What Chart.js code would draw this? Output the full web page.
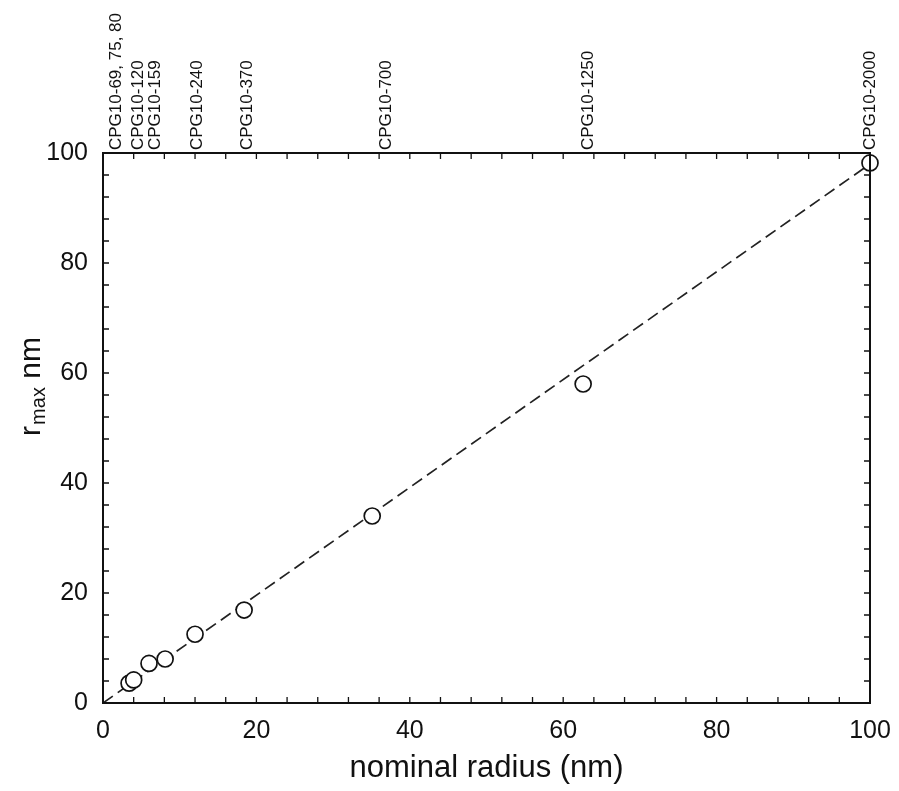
<!DOCTYPE html>
<html>
<head>
<meta charset="utf-8">
<script src="https://cdn.jsdelivr.net/npm/chart.js@4/dist/chart.umd.min.js"></script>
<style>
  html, body { margin: 0; padding: 0; background: #fff; }
  canvas { display: block; }
</style>
</head>
<body>
<canvas id="rmaxChart" width="899" height="791"></canvas>
<script>
// data
const nominalRadius = [3.4, 4.0, 6.0, 8.1, 12.0, 18.4, 35.1, 62.6, 100];
const rMax = [3.6, 4.2, 7.2, 8.0, 12.5, 16.9, 34.0, 58.0, 98.2];

// dashed fit line end points
const fitX = [0, 100];
const fitY = [0, 98];

// top axis labels and where they sit on the x scale
const poreLabels = ['CPG10-69, 75, 80', 'CPG10-120', 'CPG10-159', 'CPG10-240',
  'CPG10-370', 'CPG10-700', 'CPG10-1250', 'CPG10-2000'];
const poreLabelPos = [1.6, 4.5, 6.8, 12.2, 18.7, 36.8, 63.2, 100];

const axisTicks = [0, 20, 40, 60, 80, 100];

const font = 'Liberation Sans, Arial, sans-serif';

//points + line
const rmaxData = {
  datasets: [{
    label: 'fit',
    data: fitX.map((x, i) => ({x: x, y: fitY[i]})),
    showLine: true,
    borderColor: '#222',
    borderWidth: 1.7,
    borderDash: [12, 6],
    pointRadius: 0,
    order: 2
  }, {
    label: 'rmax',
    data: nominalRadius.map((x, i) => ({x: x, y: rMax[i]})),
    pointRadius: 8,
    pointBorderWidth: 1.7,
    pointBackgroundColor: '#fff',
    pointBorderColor: '#111',
    clip: false,
    order: 1
  }]
};

// inward ticks, box and y title with subscript
const framePlugin = {
  id: 'frame',
  afterDatasetsDraw(chart) {
    const ctx = chart.ctx;
    const a = chart.chartArea;
    const x = chart.scales.x, y = chart.scales.y;
    ctx.save();
    ctx.strokeStyle = '#111';
    ctx.lineWidth = 2;
    ctx.strokeRect(a.left, a.top, a.right - a.left, a.bottom - a.top);
    ctx.lineWidth = 1.3;
    for (let v = 4; v < 100; v += 4) {
      const px = x.getPixelForValue(v);
      const py = y.getPixelForValue(v);
      ctx.beginPath();
      ctx.moveTo(px, a.bottom); ctx.lineTo(px, a.bottom - 6);
      ctx.moveTo(px, a.top); ctx.lineTo(px, a.top + 6);
      ctx.moveTo(a.left, py); ctx.lineTo(a.left + 6, py);
      ctx.moveTo(a.right, py); ctx.lineTo(a.right - 6, py);
      ctx.stroke();
    }
    ctx.restore();
  },
  afterDraw(chart) {
    const ctx = chart.ctx;
    ctx.save();
    // y axis title
    ctx.fillStyle = '#111';
    ctx.translate(40, 387);
    ctx.rotate(-Math.PI / 2);
    ctx.textBaseline = 'alphabetic';
    ctx.font = '30px ' + font;
    const w1 = ctx.measureText('r').width;
    ctx.font = '20px ' + font;
    const w2 = ctx.measureText('max').width;
    ctx.font = '30px ' + font;
    const w3 = ctx.measureText(' nm').width;
    let sx = -(w1 + w2 + w3) / 2;
    ctx.fillText('r', sx, 0);
    ctx.font = '20px ' + font;
    ctx.fillText('max', sx + w1 + 1, 5);
    ctx.font = '30px ' + font;
    ctx.fillText(' nm', sx + w1 + w2 + 1, 0);
    ctx.restore();
  }
};

const rmaxOptions = {
  responsive: false,
  animation: false,
  layout: { padding: { right: 29, left: 0, top: 0, bottom: 0 } },
  plugins: { legend: { display: false }, tooltip: { enabled: false } },
  scales: {
    x: {
      type: 'linear', position: 'bottom', min: 0, max: 100,
      afterBuildTicks: s => { s.ticks = axisTicks.map(v => ({value: v})); },
      afterFit: s => { s.height = 88; },
      grid: { display: false },
      border: { display: false },
      ticks: { color: '#111', font: { family: font, size: 25 }, padding: 5, maxRotation: 0 },
      title: { display: true, text: 'nominal radius (nm)', color: '#111',
        font: { family: font, size: 31 }, padding: { top: 0 } }
    },
    x2: {
      type: 'linear', position: 'top', min: 0, max: 100,
      afterBuildTicks: s => { s.ticks = poreLabelPos.map(v => ({value: v})); },
      afterFit: s => { s.height = 153; },
      grid: { display: false, drawTicks: false },
      border: { display: false },
      ticks: {
        color: '#111', font: { family: font, size: 17 }, padding: 3,
        minRotation: 90, maxRotation: 90, autoSkip: false, labelOffset: 21,
        callback: (v, i) => poreLabels[i]
      }
    },
    y: {
      type: 'linear', min: 0, max: 100,
      afterBuildTicks: s => { s.ticks = axisTicks.map(v => ({value: v})); },
      afterFit: s => { s.width = 103; },
      grid: { display: false },
      border: { display: false },
      ticks: { color: '#111', font: { family: font, size: 25 }, padding: 7 }
    }
  }
};

const rmaxChart = new Chart(document.getElementById('rmaxChart'), {
  type: 'scatter',
  data: rmaxData,
  options: rmaxOptions,
  plugins: [framePlugin]
});
</script>
</body>
</html>
